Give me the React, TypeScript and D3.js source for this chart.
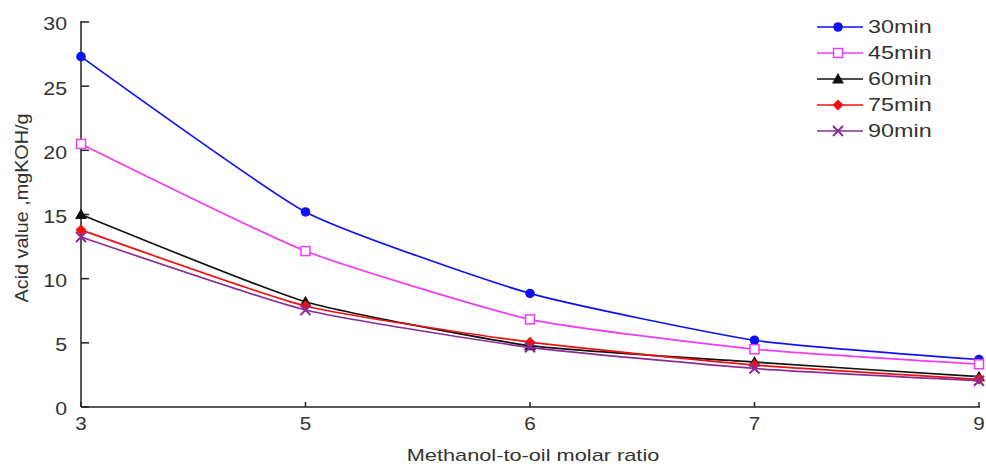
import React from "react";
import * as d3 from "d3";

const categories = ["3", "5", "6", "7", "9"];
const seriesNames = ["30min", "45min", "60min", "75min", "90min"];
const s30 = [27.3, 15.2, 8.85, 5.2, 3.7];
const s45 = [20.5, 12.15, 6.83, 4.5, 3.33];
const s60 = [15.0, 8.2, 4.78, 3.5, 2.36];
const s75 = [13.8, 7.87, 5.05, 3.27, 2.16];
const s90 = [13.25, 7.56, 4.65, 3.0, 2.05];
const yTicks = [0, 5, 10, 15, 20, 25, 30];

const seriesValues = [s30, s45, s60, s75, s90];
const colors = ["#1010f5", "#f03cf0", "#111111", "#f01010", "#8a2c96"];
const markers = ["circle", "square", "triangle", "diamond", "cross"];

function Marker({ type, x, y, color }: { type: string; x: number; y: number; color: string }) {
  if (type === "circle") return <circle cx={x} cy={y} r={4.8} fill={color} />;
  if (type === "square")
    return <rect x={x - 4.5} y={y - 4.5} width={9} height={9} fill="white" stroke={color} strokeWidth={1.5} />;
  if (type === "triangle")
    return <path d={`M${x},${y - 6}L${x + 6},${y + 4.5}L${x - 6},${y + 4.5}Z`} fill={color} />;
  if (type === "diamond")
    return <path d={`M${x},${y - 5.5}L${x + 5.5},${y}L${x},${y + 5.5}L${x - 5.5},${y}Z`} fill={color} />;
  return (
    <path
      d={`M${x - 5},${y - 5}L${x + 5},${y + 5}M${x - 5},${y + 5}L${x + 5},${y - 5}`}
      stroke={color}
      strokeWidth={2}
    />
  );
}

function SText({
  x, y, sx = 1, size, anchor = "start", dy, children,
}: { x: number; y: number; sx?: number; size: number; anchor?: string; dy?: string; children: any }) {
  return (
    <text
      transform={`translate(${x},${y}) scale(${sx},1)`}
      textAnchor={anchor}
      fontSize={size}
      dy={dy}
      fill="#333"
    >
      {children}
    </text>
  );
}

export default function App() {
  const W = 986, H = 464;
  const x0 = 81, x1 = 979, y0 = 407, y1 = 22;
  const x = d3.scalePoint<string>().domain(categories).range([x0, x1]);
  const y = d3.scaleLinear().domain([0, 30]).range([y0, y1]);
  const line = d3
    .line<number>()
    .x((_, i) => x(categories[i]) as number)
    .y((d) => y(d))
    .curve(d3.curveCardinal.tension(0.5));
  const font = "'Liberation Sans', Arial, sans-serif";
  const legendX = 817, legendY = 27, legendStep = 26;

  return (
    <svg width={W} height={H} style={{ position: "absolute", left: 0, top: 0, background: "white" }} fontFamily={font}>
      {/* axes */}
      <line x1={x0} y1={y1 - 1} x2={x0} y2={y0} stroke="#222" strokeWidth={1.5} />
      <line x1={x0} y1={y0} x2={x1 + 1} y2={y0} stroke="#222" strokeWidth={1.5} />
      {yTicks.map((t) => (
        <g key={t}>
          <line x1={x0} x2={x0 + 8} y1={y(t)} y2={y(t)} stroke="#222" strokeWidth={1.5} />
          <SText x={67} y={y(t) + 1.5} sx={1.12} size={19} anchor="end" dy="0.36em">
            {t}
          </SText>
        </g>
      ))}
      {categories.map((c) => (
        <g key={c}>
          <line x1={x(c)} x2={x(c)} y1={y0} y2={y0 - 5} stroke="#222" strokeWidth={1.5} />
          <SText x={x(c) as number} y={430} sx={1.15} size={18} anchor="middle">
            {c}
          </SText>
        </g>
      ))}
      <SText x={533} y={461} sx={1.28} size={17} anchor="middle">
        Methanol-to-oil molar ratio
      </SText>
      <text
        transform={`translate(28,208) rotate(-90) scale(1.04,1)`}
        textAnchor="middle"
        fontSize={19}
        fill="#333"
      >
        Acid value ,mgKOH/g
      </text>
      {/* series */}
      {seriesValues.map((vals, si) => (
        <g key={si}>
          <path d={line(vals) || ""} fill="none" stroke={colors[si]} strokeWidth={1.7} />
          {vals.map((v, i) => (
            <Marker key={i} type={markers[si]} x={x(categories[i]) as number} y={y(v)} color={colors[si]} />
          ))}
        </g>
      ))}
      {/* legend */}
      {seriesNames.map((n, i) => {
        const ly = legendY + i * legendStep;
        return (
          <g key={n}>
            <line x1={legendX} x2={legendX + 46} y1={ly} y2={ly} stroke={colors[i]} strokeWidth={1.7} />
            <Marker type={markers[i]} x={legendX + 21} y={ly} color={colors[i]} />
            <SText x={legendX + 51} y={ly} sx={1.3} size={18} dy="0.36em">
              {n}
            </SText>
          </g>
        );
      })}
    </svg>
  );
}
